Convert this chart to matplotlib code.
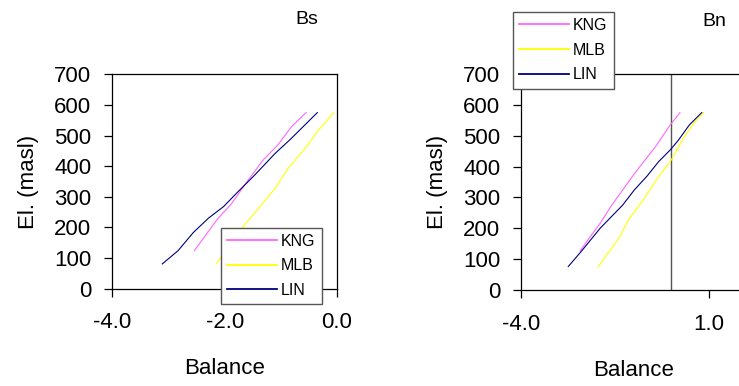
import matplotlib
matplotlib.use('Agg')
import matplotlib.pyplot as plt

plt.rcParams.update({
    'font.family': 'Liberation Sans',
    'font.size': 16,
})

series_names = ['KNG', 'MLB', 'LIN']
series_colors = ['#FF66FF', '#FFFF00', '#000080']

# Bs glacier profiles
bs_kng_x = [-2.54, -2.13, -1.88, -1.58, -1.31, -1.05, -0.81, -0.55]
bs_kng_y = [124, 227, 277, 355, 421, 470, 529, 575]
bs_mlb_x = [-2.15, -1.67, -1.10, -0.87, -0.54, -0.35, -0.06]
bs_mlb_y = [81, 203, 328, 393, 464, 513, 575]
bs_lin_x = [-3.11, -2.83, -2.56, -2.29, -2.02, -1.76, -1.46, -1.10, -0.84, -0.57, -0.35]
bs_lin_y = [81, 124, 183, 230, 268, 317, 372, 442, 486, 535, 575]

# Bn glacier profiles
bn_kng_x = [-2.42, -2.20, -1.89, -1.58, -1.00, -0.38, -0.02, 0.24]
bn_kng_y = [127, 165, 216, 275, 373, 470, 535, 575]
bn_mlb_x = [-1.94, -1.36, -1.14, -0.74, -0.33, -0.02, 0.33, 0.60, 0.87]
bn_mlb_y = [76, 173, 227, 292, 367, 416, 492, 540, 575]
bn_lin_x = [-2.74, -2.38, -1.89, -1.29, -0.98, -0.64, -0.33, -0.02, 0.20, 0.49, 0.82]
bn_lin_y = [76, 127, 200, 275, 324, 369, 416, 454, 486, 535, 575]

y_ticks = [0, 100, 200, 300, 400, 500, 600, 700]

W, H = 739, 386
fig = plt.figure(figsize=(W / 100, H / 100), dpi=100)


def panel(rect, xs, ys, xlim, xticks, legend_at):
    ax = fig.add_axes(rect)
    for x, y, name, c in zip(xs, ys, series_names, series_colors):
        ax.plot(x, y, color=c, lw=0.8, label=name)
    ax.set_xlim(*xlim)
    ax.set_ylim(0, 700)
    ax.set_yticks(y_ticks)
    ax.set_xticks(xticks)
    ax.set_xticklabels([f'{t:.1f}' for t in xticks])
    ax.tick_params(direction='out', length=6, width=0.9, labelsize=16)
    ax.tick_params(axis='y', pad=9)
    ax.tick_params(axis='x', pad=11)
    for s in ax.spines.values():
        s.set_linewidth(0.9)
    ax.set_xlabel('Balance', fontsize=16, labelpad=18)
    ax.set_ylabel('El. (masl)', fontsize=16, labelpad=11)
    leg = ax.legend(loc='upper left', bbox_to_anchor=legend_at,
                    bbox_transform=fig.transFigure, borderaxespad=0,
                    fancybox=False, framealpha=1, edgecolor='#555555',
                    handlelength=3.1, handletextpad=0.25, labelspacing=0.6,
                    borderpad=0.4, prop={'family': 'Liberation Sans', 'size': 11.5})
    leg.get_frame().set_linewidth(1.0)
    for h in leg.get_lines():
        h.set_linewidth(1.3)
    return ax


ax1 = panel([112.3 / W, 1 - 288.7 / H, (337 - 112.3) / W, (288.7 - 74.3) / H],
            [bs_kng_x, bs_mlb_x, bs_lin_x], [bs_kng_y, bs_mlb_y, bs_lin_y],
            (-4, 0), [-4.0, -2.0, 0.0], (221 / W, 1 - 227.5 / H))

ax2 = panel([521 / W, 1 - 290 / H, (746 - 521) / W, (290 - 74) / H],
            [bn_kng_x, bn_mlb_x, bn_lin_x], [bn_kng_y, bn_mlb_y, bn_lin_y],
            (-4, 2), [-4.0, 1.0], (513 / W, 1 - 11.7 / H))
ax2.axvline(0, color='#555555', lw=1.0, zorder=1)

fig.text(307 / W, 1 - 19 / H, 'Bs', ha='center', va='center', fontsize=14)
fig.text(714 / W, 1 - 21 / H, 'Bn', ha='center', va='center', fontsize=14)

fig.savefig('out.png', dpi=100)
